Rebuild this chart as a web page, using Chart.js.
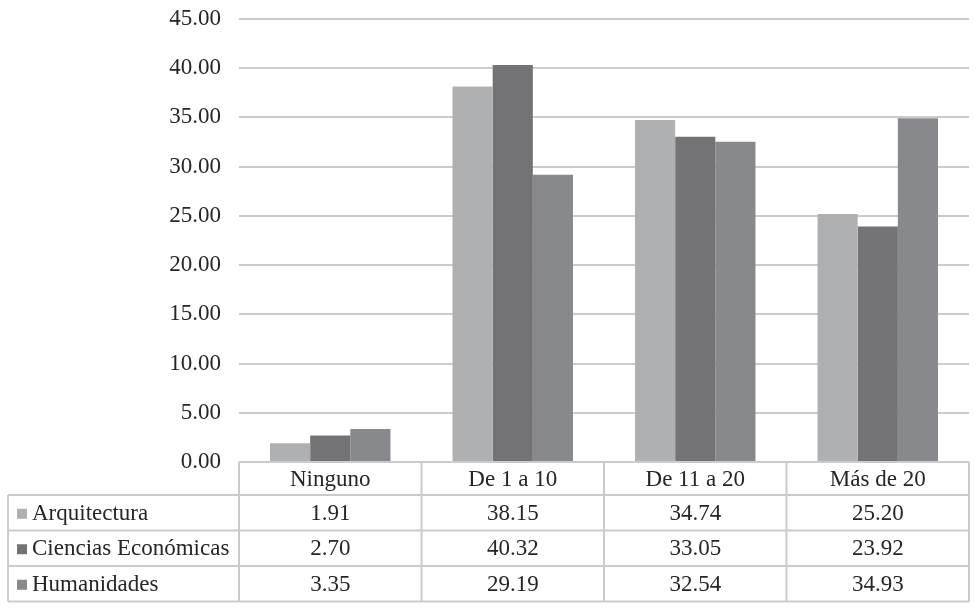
<!DOCTYPE html>
<html>
<head>
<meta charset="utf-8">
<script src="https://cdn.jsdelivr.net/npm/chart.js@4/dist/chart.umd.min.js"></script>
<style>
  html, body { margin:0; padding:0; background:#fff; }
  #wrap { width:978px; height:610px; position:relative; }
</style>
</head>
<body>
<div id="wrap"><canvas id="c" width="978" height="610"></canvas></div>
<script>
// data
const categories = ['Ninguno', 'De 1 a 10', 'De 11 a 20', 'Más de 20'];
const seriesNames = ['Arquitectura', 'Ciencias Económicas', 'Humanidades'];
const arquitectura = [1.91, 38.15, 34.74, 25.20];
const cienciasEconomicas = [2.70, 40.32, 33.05, 23.92];
const humanidades = [3.35, 29.19, 32.54, 34.93];
const seriesColors = ['#afb0b2', '#737376', '#88898c'];

const FONT = '"Liberation Serif", "Times New Roman", serif';
const TEXT = '#262626';
const LINE = '#cbcbcb';

// table under the plot, columns follow the x scale
const dataTable = {
  id: 'dataTable',
  afterDraw(chart) {
    const ctx = chart.ctx;
    const xs = chart.scales.x;
    const area = chart.chartArea;
    const colW = (area.right - area.left) / categories.length;
    const top = area.bottom;
    const headH = 33;
    const rowH = 35.5;
    const leftX = 8;
    const bottom = top + headH + rowH * seriesNames.length;
    const values = [arquitectura, cienciasEconomicas, humanidades];

    ctx.save();
    ctx.strokeStyle = LINE;
    ctx.lineWidth = 2;
    ctx.beginPath();
    ctx.moveTo(area.left, top); ctx.lineTo(area.right, top);
    ctx.moveTo(leftX, top + headH); ctx.lineTo(area.right, top + headH);
    for (let r = 1; r <= seriesNames.length; r++) {
      const y = top + headH + rowH * r;
      ctx.moveTo(leftX, y); ctx.lineTo(area.right, y);
    }
    ctx.moveTo(leftX, top + headH); ctx.lineTo(leftX, bottom);
    for (let i = 0; i <= categories.length; i++) {
      const x = area.left + colW * i;
      ctx.moveTo(x, top); ctx.lineTo(x, bottom);
    }
    ctx.stroke();

    ctx.fillStyle = TEXT;
    ctx.font = '23px ' + FONT;
    ctx.textAlign = 'center';
    ctx.textBaseline = 'middle';
    categories.forEach((c, i) => {
      ctx.fillText(c, xs.getPixelForValue(i), top + headH / 2 + 1);
    });
    seriesNames.forEach((name, r) => {
      const yMid = top + headH + rowH * r + rowH / 2 + 1;
      ctx.fillStyle = seriesColors[r];
      ctx.fillRect(leftX + 9, yMid - 5, 10, 10);
      ctx.fillStyle = TEXT;
      ctx.textAlign = 'left';
      ctx.fillText(name, leftX + 24, yMid);
      ctx.textAlign = 'center';
      values[r].forEach((v, i) => {
        ctx.fillText(v.toFixed(2), xs.getPixelForValue(i), yMid);
      });
    });
    ctx.restore();
  }
};

new Chart(document.getElementById('c'), {
  type: 'bar',
  data: {
    labels: categories,
    datasets: [
      { label: seriesNames[0], data: arquitectura, backgroundColor: seriesColors[0] },
      { label: seriesNames[1], data: cienciasEconomicas, backgroundColor: seriesColors[1] },
      { label: seriesNames[2], data: humanidades, backgroundColor: seriesColors[2] }
    ]
  },
  options: {
    responsive: false,
    animation: false,
    layout: { padding: { top: 19, bottom: 148, right: 9, left: 0 } },
    datasets: { bar: { categoryPercentage: 0.66, barPercentage: 1.0 } },
    plugins: { legend: { display: false }, tooltip: { enabled: false } },
    scales: {
      x: {
        display: false
      },
      y: {
        min: 0, max: 45,
        afterFit(s) { s.width = 239; s.paddingTop = 0; s.paddingBottom = 0; },
        ticks: {
          stepSize: 5,
          padding: 18,
          color: TEXT,
          font: { family: FONT, size: 23 },
          callback: v => Number(v).toFixed(2)
        },
        grid: { color: LINE, lineWidth: 2, drawTicks: false },
        border: { display: false }
      }
    }
  },
  plugins: [dataTable]
});
</script>
</body>
</html>
